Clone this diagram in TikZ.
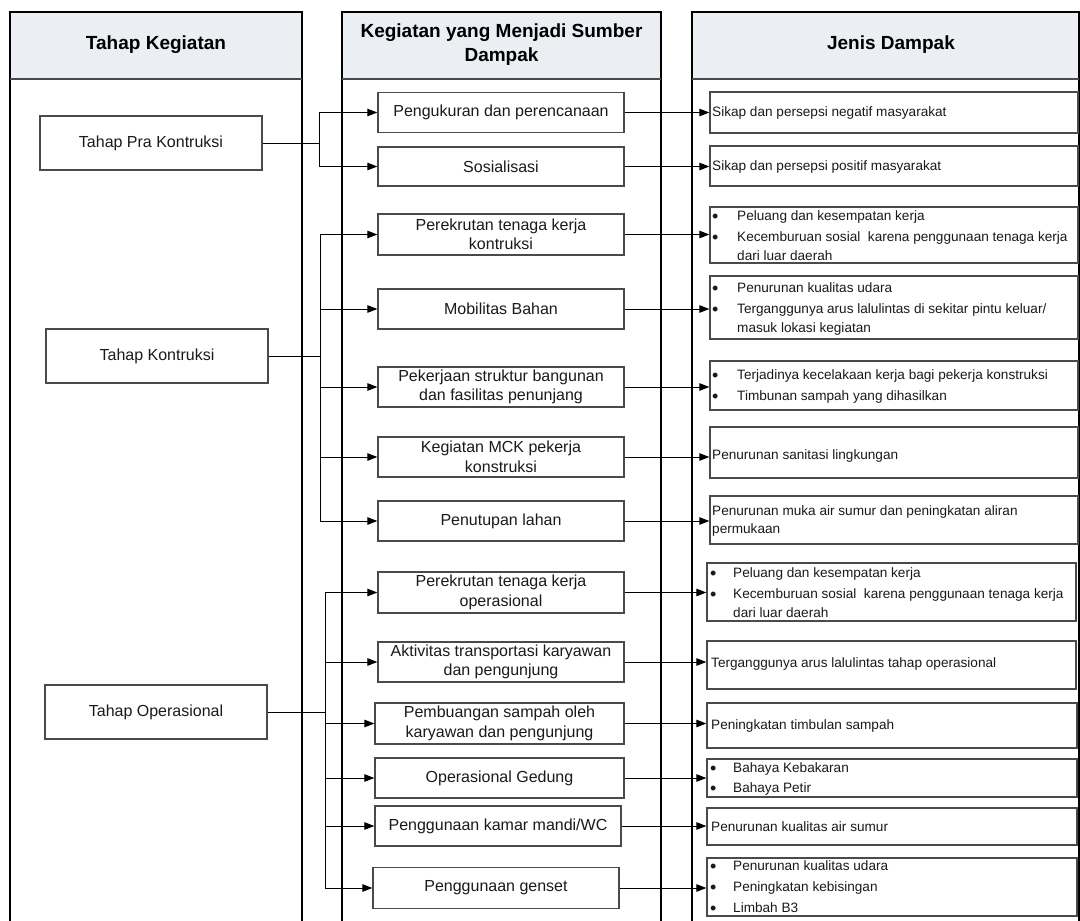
\documentclass[tikz,border=0pt]{standalone}
\usepackage{fontspec}
\setmainfont{Liberation Sans}
\usetikzlibrary{arrows.meta}
\definecolor{hdr}{HTML}{EBEEF3}
\definecolor{bord}{HTML}{4A4A4A}
\definecolor{txtc}{HTML}{1A1A1A}
\begin{document}
\begin{tikzpicture}[x=1pt,y=-1pt,
 col/.style={draw=black, line width=1.1pt},
 lbox/.style={draw=bord, line width=1.3pt, minimum width=222pt, minimum height=54pt, inner sep=0pt, font=\fontsize{16}{19}\selectfont, text=txtc},
 mbox/.style={draw=bord, line width=1.3pt, minimum height=40pt, inner sep=0pt, align=center, font=\fontsize{16}{19.5}\selectfont, text=txtc},
 rbox/.style={draw=bord, line width=1.3pt, inner sep=0pt},
 rtxt/.style={anchor=west, inner sep=0pt, font=\fontsize{13.6}{16}\selectfont, text height=8pt, text depth=0pt, text=txtc},
 bul/.style={anchor=west, inner sep=0pt, font=\fontsize{18}{18}\selectfont, text height=12pt, text depth=0pt, text=txtc},
 conn/.style={draw=black, line width=1pt},
 arr/.style={conn, -{Triangle[length=10pt,width=7.5pt]}},
 hdrtxt/.style={font=\bfseries\fontsize{19}{24}\selectfont, align=center, text=black, inner sep=0pt}
]
\useasboundingbox (0,0) rectangle (1080,921);
\fill[white] (0,0) rectangle (1080,921);
% columns
\fill[hdr] (10,12) rectangle (302,79);
\fill[hdr] (342,12) rectangle (661,79);
\fill[hdr] (692,12) rectangle (1079,79);
\draw[col] (10,921) -- (10,12) -- (302,12) -- (302,921);
\draw[col] (342,921) -- (342,12) -- (661,12) -- (661,921);
\draw[col] (692,921) -- (692,12) -- (1079,12) -- (1079,921);
\draw[col, draw=bord, line width=1.4pt] (10,79) -- (302,79) (342,79) -- (661,79) (692,79) -- (1079,79);
\node[hdrtxt] (h1) at (156,45) {Tahap Kegiatan};
\node[hdrtxt] (h2) at (501.5,45) {Kegiatan yang Menjadi Sumber\\Dampak};
\node[hdrtxt] (h3) at (891,45) {Jenis Dampak};
% left boxes
\node[lbox] (L1) at (151,143) {Tahap Pra Kontruksi};
\node[lbox] (L2) at (157,356) {Tahap Kontruksi};
\node[lbox] (L3) at (156,712) {Tahap Operasional};
% middle boxes
\node[mbox, minimum width=246pt] (m1) at (501,112.5) {Pengukuran dan perencanaan};
\node[mbox, minimum width=246pt, minimum height=39pt] (m2) at (501,166.5) {Sosialisasi};
\node[mbox, minimum width=246pt, minimum height=41pt] (m3) at (501,234.5) {Perekrutan tenaga kerja\\kontruksi};
\node[mbox, minimum width=246pt] (m4) at (501,309) {Mobilitas Bahan};
\node[mbox, minimum width=246pt] (m5) at (501,387) {Pekerjaan struktur bangunan\\dan fasilitas penunjang};
\node[mbox, minimum width=246pt] (m6) at (501,457) {Kegiatan MCK pekerja\\konstruksi};
\node[mbox, minimum width=246pt] (m7) at (501,521) {Penutupan lahan};
\node[mbox, minimum width=246pt, minimum height=41pt] (m8) at (501,592.5) {Perekrutan tenaga kerja\\operasional};
\node[mbox, minimum width=246pt] (m9) at (501,662) {Aktivitas transportasi karyawan\\dan pengunjung};
\node[mbox, minimum width=249pt, minimum height=41pt] (m10) at (499.5,723.5) {Pembuangan sampah oleh\\karyawan dan pengunjung};
\node[mbox, minimum width=249pt] (m11) at (499.5,778) {Operasional Gedung};
\node[mbox, minimum width=246pt] (m12) at (498,826) {Penggunaan kamar mandi/WC};
\node[mbox, minimum width=246pt, minimum height=41pt] (m13) at (496,888) {Penggunaan genset};
% right boxes
\node[rbox, minimum width=368pt, minimum height=41pt] (r1) at (894,112.5) {};
\node[rbox, minimum width=368pt, minimum height=40pt] (r2) at (894,166) {};
\node[rbox, minimum width=368pt, minimum height=56pt] (r3) at (894,235) {};
\node[rbox, minimum width=368pt, minimum height=63pt] (r4) at (894,307.5) {};
\node[rbox, minimum width=368pt, minimum height=49pt] (r5) at (894,385.5) {};
\node[rbox, minimum width=368pt, minimum height=51pt] (r6) at (894,452.5) {};
\node[rbox, minimum width=368pt, minimum height=48pt] (r7) at (894,520) {};
\node[rbox, minimum width=369pt, minimum height=58pt] (r8) at (891.5,592) {};
\node[rbox, minimum width=369pt, minimum height=48pt] (r9) at (891.5,665) {};
\node[rbox, minimum width=370pt, minimum height=45pt] (r10) at (892,725.5) {};
\node[rbox, minimum width=370pt, minimum height=38pt] (r11) at (892,778) {};
\node[rbox, minimum width=370pt, minimum height=37pt] (r12) at (892,826.5) {};
\node[rbox, minimum width=370pt, minimum height=58pt] (r13) at (892,887) {};
% right texts
\node[rtxt] (t1) at (712,112.5) {Sikap dan persepsi negatif masyarakat};
\node[rtxt] (t2) at (712,166) {Sikap dan persepsi positif masyarakat};
\node[bul] (b3a) at (712,216) {•};
\node[bul] (b3b) at (712,237) {•};
\node[rtxt] (t3a) at (737,216) {Peluang dan kesempatan kerja};
\node[rtxt] (t3b) at (737,237) {Kecemburuan sosial~ karena penggunaan tenaga kerja};
\node[rtxt] (t3c) at (737,256) {dari luar daerah};
\node[bul] (b4a) at (712,288) {•};
\node[bul] (b4b) at (712,309) {•};
\node[rtxt] (t4a) at (737,288) {Penurunan kualitas udara};
\node[rtxt] (t4b) at (737,309) {Terganggunya arus lalulintas di sekitar pintu keluar/};
\node[rtxt] (t4c) at (737,328) {masuk lokasi kegiatan};
\node[bul] (b5a) at (712,375) {•};
\node[bul] (b5b) at (712,396) {•};
\node[rtxt] (t5a) at (737,375) {Terjadinya kecelakaan kerja bagi pekerja konstruksi};
\node[rtxt] (t5b) at (737,396) {Timbunan sampah yang dihasilkan};
\node[rtxt] (t6) at (712,455) {Penurunan sanitasi lingkungan};
\node[rtxt] (t7a) at (712,511) {Penurunan muka air sumur dan peningkatan aliran};
\node[rtxt] (t7b) at (712,529) {permukaan};
\node[bul] (b8a) at (710,573) {•};
\node[bul] (b8b) at (710,594) {•};
\node[rtxt] (t8a) at (733,573) {Peluang dan kesempatan kerja};
\node[rtxt] (t8b) at (733,594) {Kecemburuan sosial~ karena penggunaan tenaga kerja};
\node[rtxt] (t8c) at (733,613) {dari luar daerah};
\node[rtxt] (t9) at (711,663) {Terganggunya arus lalulintas tahap operasional};
\node[rtxt] (t10) at (711,725) {Peningkatan timbulan sampah};
\node[bul] (b11a) at (710,768) {•};
\node[bul] (b11b) at (710,788) {•};
\node[rtxt] (t11a) at (733,768) {Bahaya Kebakaran};
\node[rtxt] (t11b) at (733,788) {Bahaya Petir};
\node[rtxt] (t12) at (711,827) {Penurunan kualitas air sumur};
\node[bul] (b13a) at (710,866) {•};
\node[bul] (b13b) at (710,887) {•};
\node[bul] (b13c) at (710,908) {•};
\node[rtxt] (t13a) at (733,866) {Penurunan kualitas udara};
\node[rtxt] (t13b) at (733,887) {Peningkatan kebisingan};
\node[rtxt] (t13c) at (733,908) {Limbah B3};
% left connectors
\coordinate (j1) at (319,143);
\coordinate (j2) at (320,356);
\coordinate (j3) at (325,712);
\draw[conn] (L1.east) -- (j1);
\draw[conn] (L2.east) -- (j2);
\draw[conn] (L3.east) -- (j3);
\foreach \m in {m1,m2} \draw[arr] (j1) |- (\m.west);
\foreach \m in {m3,m4,m5,m6,m7} \draw[arr] (j2) |- (\m.west);
\foreach \m in {m8,m9,m10,m11,m12,m13} \draw[arr] (j3) |- (\m.west);
% right connectors
\foreach \i in {1,...,13} \draw[arr] (m\i.east) -- (m\i.east -| r\i.west);
\end{tikzpicture}
\end{document}
